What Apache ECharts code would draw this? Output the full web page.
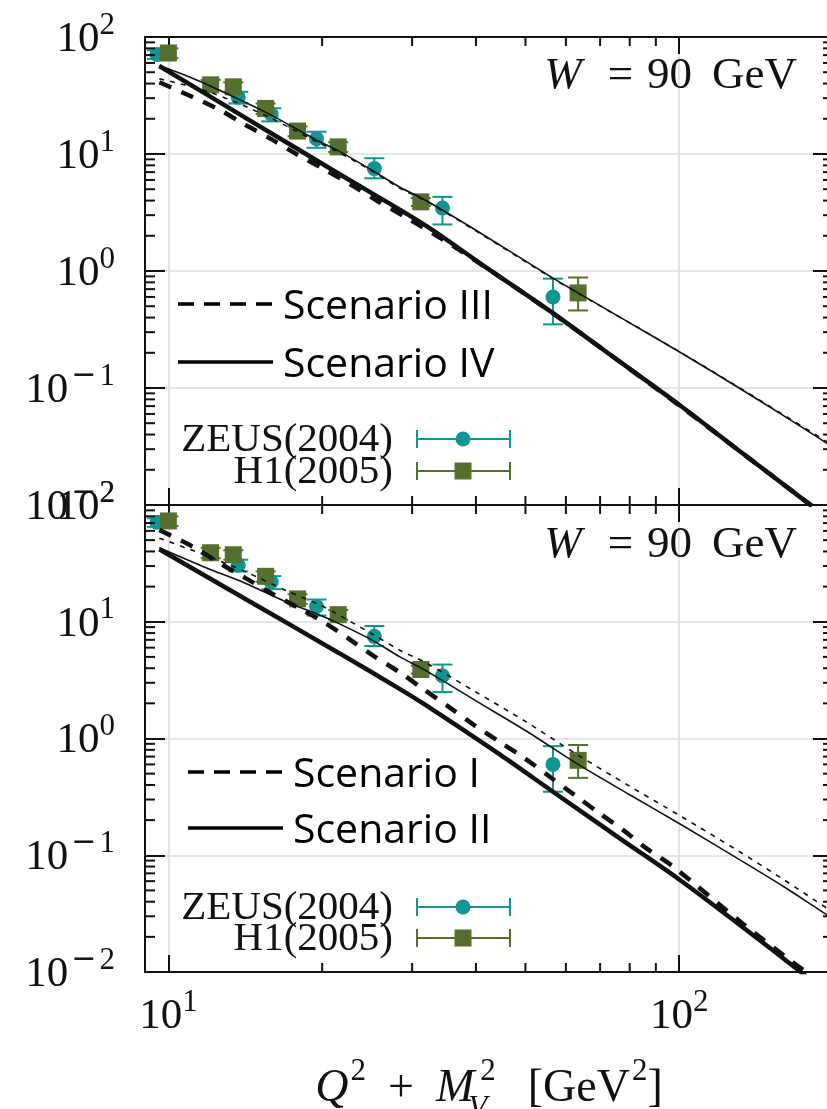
<!DOCTYPE html>
<html>
<head>
<meta charset="utf-8">
<title>W = 90 GeV</title>
<script src="https://cdn.jsdelivr.net/npm/echarts@6.0.0/dist/echarts.min.js"></script>
<style>
  html, body { margin: 0; padding: 0; background: #fff; overflow: hidden; }
  #chart { width: 834px; height: 1109px; }
</style>
</head>
<body>
<div id="chart"></div>
<script>
// data points
var zeusX  = [9.5, 13.7, 15.9, 19.5, 25.3, 34.4, 56.6];
var zeusY  = [71, 30.5, 22, 13.5, 7.5, 3.45, 0.6];
var zeusLo = [65, 27, 19, 11.3, 6.2, 2.5, 0.35];
var zeusHi = [77, 34, 24.6, 15.5, 9.2, 4.3, 0.86];

var h1X  = [10.0, 12.1, 13.4, 15.5, 17.9, 21.5, 31.2, 63.4];
var h1Y  = [73, 39, 37.5, 24.5, 15.7, 11.5, 3.9, 0.65];
var h1Lo = [66, 35, 34, 22, 14.2, 10.4, 3.6, 0.46];
var h1Hi = [80, 43, 41, 27, 17.2, 12.6, 4.2, 0.88];

// upper panel curves: Scenario III (dashed) / Scenario IV (solid)
var s4ThickX = [9.6, 14.4, 21.6, 31.8, 40.7, 56.6, 76.6, 100, 132, 176.6, 182];
var s4ThickY = [56.5, 19.5, 6.75, 2.47, 1.17, 0.437, 0.167, 0.072, 0.0284, 0.0108, 0.0098];
var s3ThickX = [9.6, 11.1, 12.6, 14.1, 15.9, 17.8, 20.2, 22.8, 25.7, 29, 35, 40.7, 56.6, 76.6, 100, 132, 176.6, 182];
var s3ThickY = [41, 31, 23.8, 17.9, 13.4, 10.0, 7.4, 5.45, 3.95, 2.92, 1.78, 1.16, 0.435, 0.167, 0.071, 0.0284, 0.0108, 0.0098];
var thinTopX = [9.6, 11, 12.1, 13.6, 15.9, 19.6, 21.4, 25, 28.4, 31.8, 40, 56.6, 63.4, 80, 100, 130, 160, 194, 200];
var s4ThinY  = [57, 45.5, 38, 30, 21.5, 13.0, 10.8, 7.3, 5.2, 4.04, 2.23, 0.87, 0.65, 0.36, 0.204, 0.102, 0.058, 0.034, 0.031];
var s3ThinY  = [44, 38, 33.5, 27.5, 20.2, 12.6, 10.5, 7.2, 5.1, 4.0, 2.2, 0.86, 0.645, 0.36, 0.205, 0.103, 0.059, 0.035, 0.032];

// lower panel curves: Scenario I (dashed) / Scenario II (solid)
var s2ThickX = [9.6, 14.4, 21.6, 28.4, 31.8, 44.6, 56.6, 76.6, 100, 132, 172.5, 180];
var s2ThickY = [41.8, 15.0, 5.38, 2.65, 1.95, 0.727, 0.35, 0.139, 0.062, 0.0249, 0.0101, 0.0087];
var s1ThickX = [9.6, 11.1, 12.7, 14.1, 16, 17.9, 20.2, 22.6, 25.3, 28.6, 31.5, 35.5, 39.8, 44.6, 50, 55.8, 62.5, 70, 77.7, 86.4, 97.5, 133.5, 166.6, 180];
var s1ThickY = [61, 44.6, 31.1, 23.9, 17.3, 13.3, 9.86, 7.1, 5.05, 3.6, 2.66, 1.85, 1.29, 0.93, 0.67, 0.47, 0.326, 0.227, 0.164, 0.114, 0.0794, 0.0257, 0.0122, 0.0095];
var thinBotX = [9.6, 11.85, 14.1, 17, 19.6, 21, 25, 28.4, 31.8, 40, 50, 63.4, 80, 100, 130, 160, 195, 200];
var s2ThinY  = [43, 29, 21.5, 14.8, 11.6, 10.2, 7.0, 5.0, 3.85, 2.1, 1.17, 0.6, 0.33, 0.187, 0.094, 0.054, 0.0307, 0.029];
var s1ThinY  = [52, 37, 27, 18.5, 14.2, 12.2, 7.9, 5.7, 4.5, 2.5, 1.4, 0.72, 0.39, 0.22, 0.11, 0.062, 0.035, 0.033];

// axis ranges and minor tick positions
var xRange = [9, 200];
var yRange = [0.01, 100];
var xMinor = [20, 30, 40, 50, 60, 70, 80, 90];
var yMinor = [0.02, 0.03, 0.04, 0.05, 0.06, 0.07, 0.08, 0.09,
              0.2, 0.3, 0.4, 0.5, 0.6, 0.7, 0.8, 0.9,
              2, 3, 4, 5, 6, 7, 8, 9,
              20, 30, 40, 50, 60, 70, 80, 90];

var serif = 'Liberation Serif';
var ink = '#111111';
var teal = '#109593';
var olive = '#55702e';

var chart = echarts.init(document.getElementById('chart'));

function pairs(xs, ys) {
  return xs.map(function (x, i) { return [x, ys[i]]; });
}

// 10^n labels
function powLabel(v) {
  var l = Math.log10(v);
  var e = Math.round(l);
  if (Math.abs(l - e) > 1e-6) return '';
  if (e < 0) return '{b|10}{m|\u2212}{s|' + (-e) + '}';
  return '{b|10}{s|' + e + '}';
}
var powRich = {
  b: { fontFamily: serif, fontSize: 43, lineHeight: 44, verticalAlign: 'top', padding: [8, 0, 0, 0], color: ink },
  s: { fontFamily: serif, fontSize: 31, lineHeight: 30, verticalAlign: 'top', color: ink },
  m: { fontFamily: 'DejaVu Sans', fontSize: 30, lineHeight: 30, verticalAlign: 'top', padding: [0, 3, 0, 3], color: ink }
};

function xAxisDef(grid, pos, labels) {
  var ax = {
    type: 'log', logBase: 10, gridIndex: grid, position: pos,
    min: xRange[0], max: xRange[1],
    axisLine: { show: true, onZero: false, lineStyle: { color: ink, width: 2 } },
    axisTick: { show: true, inside: true, length: 17, lineStyle: { color: ink, width: 2 } },
    splitLine: { show: pos === 'bottom', lineStyle: { color: '#dedede', width: 1.6 } },
    axisLabel: { show: labels, margin: 15, formatter: powLabel, rich: powRich, padding: [0, 0, 10, 0] }
  };
  if (labels) {
    ax.name = '{i|Q}{p|2}{r|+}{i|M}{v|V}{p|2}{k|[GeV}{p|2}{k2|]}';
    ax.nameLocation = 'middle';
    ax.nameGap = 84;
    ax.nameTextStyle = {
      rich: {
        i: { fontFamily: serif, fontStyle: 'italic', fontSize: 46, lineHeight: 46, verticalAlign: 'top', padding: [10, 0, 0, 0], color: ink },
        p: { fontFamily: serif, fontSize: 31, lineHeight: 30, verticalAlign: 'top', padding: [0, 0, 0, 2], color: ink },
        r: { fontFamily: serif, fontSize: 46, lineHeight: 46, verticalAlign: 'top', padding: [10, 22, 0, 22], color: ink },
        v: { fontFamily: serif, fontStyle: 'italic', fontSize: 31, lineHeight: 30, verticalAlign: 'top', padding: [37, 0, 0, 3], width: 1, color: ink },
        k: { fontFamily: serif, fontSize: 46, lineHeight: 46, verticalAlign: 'top', padding: [10, 0, 0, 32], color: ink },
        k2: { fontFamily: serif, fontSize: 46, lineHeight: 46, verticalAlign: 'top', padding: [10, 0, 0, 0], color: ink }
      }
    };
  }
  return ax;
}

function yAxisDef(grid, pos) {
  return {
    type: 'log', logBase: 10, gridIndex: grid, position: pos,
    min: yRange[0], max: yRange[1],
    axisLine: { show: true, onZero: false, lineStyle: { color: ink, width: 2 } },
    axisTick: { show: true, inside: true, length: 20, lineStyle: { color: ink, width: 2 } },
    splitLine: { show: pos === 'left', lineStyle: { color: '#dedede', width: 1.6 } },
    axisLabel: { show: pos === 'left', margin: 30, formatter: powLabel, rich: powRich, padding: [0, 0, 10, 0] }
  };
}

// short minor ticks along the frame, placed through the axes' own scales
function minorTickSeries(axis, values, isX) {
  return {
    type: 'custom', xAxisIndex: axis, yAxisIndex: axis, z: 6, clip: false, silent: true,
    encode: { x: 0, y: 1 },
    data: values.map(function (v) { return isX ? [v, yRange[0]] : [xRange[0], v]; }),
    renderItem: function (params, api) {
      var st = { stroke: ink, lineWidth: 2 };
      var a, b;
      if (isX) {
        a = api.coord([api.value(0), yRange[0]]);
        b = api.coord([api.value(0), yRange[1]]);
        return { type: 'group', children: [
          { type: 'line', shape: { x1: a[0], y1: a[1], x2: a[0], y2: a[1] - 9 }, style: st },
          { type: 'line', shape: { x1: b[0], y1: b[1], x2: b[0], y2: b[1] + 9 }, style: st }
        ] };
      }
      a = api.coord([xRange[0], api.value(1)]);
      b = api.coord([xRange[1], api.value(1)]);
      return { type: 'group', children: [
        { type: 'line', shape: { x1: a[0], y1: a[1], x2: a[0] + 10, y2: a[1] }, style: st },
        { type: 'line', shape: { x1: b[0], y1: b[1], x2: b[0] - 10, y2: b[1] }, style: st }
      ] };
    }
  };
}

function curve(name, xs, ys, axis, width, dash) {
  return {
    name: name, type: 'line', xAxisIndex: axis, yAxisIndex: axis,
    data: pairs(xs, ys), showSymbol: false, smooth: 0.3, z: 5, silent: true,
    lineStyle: { color: ink, width: width, type: dash || 'solid', cap: 'butt' }
  };
}

function points(xs, ys, axis, symbol, size, color) {
  return {
    type: 'scatter', xAxisIndex: axis, yAxisIndex: axis, data: pairs(xs, ys),
    symbol: symbol, symbolSize: size, itemStyle: { color: color, opacity: 1 }, z: 3, silent: true
  };
}

function errorBars(xs, lo, hi, axis, color) {
  return {
    type: 'custom', xAxisIndex: axis, yAxisIndex: axis, z: 3, silent: true,
    encode: { x: 0, y: [1, 2] },
    data: xs.map(function (x, i) { return [x, lo[i], hi[i]]; }),
    renderItem: function (params, api) {
      var top = api.coord([api.value(0), api.value(2)]);
      var bot = api.coord([api.value(0), api.value(1)]);
      var hw = 10;
      var st = { stroke: color, lineWidth: 2 };
      return {
        type: 'group',
        children: [
          { type: 'line', shape: { x1: top[0], y1: top[1], x2: bot[0], y2: bot[1] }, style: st },
          { type: 'line', shape: { x1: top[0] - hw, y1: top[1], x2: top[0] + hw, y2: top[1] }, style: st },
          { type: 'line', shape: { x1: bot[0] - hw, y1: bot[1], x2: bot[0] + hw, y2: bot[1] }, style: st }
        ]
      };
    }
  };
}

// text and legend keys drawn on top of each panel
function panelDecor(dy, scenDash, scenSolid, lineX, textX, dashY, solidY, zeusY0, h1Y0) {
  var out = [];
  out.push({
    type: 'text', x: 797, y: 76 + dy, z: 10,
    style: {
      text: '{i|W}{e|=}{r|90}{g|GeV}', align: 'right', verticalAlign: 'middle',
      rich: {
        i: { fontFamily: serif, fontStyle: 'italic', fontSize: 45, fill: ink },
        e: { fontFamily: serif, fontSize: 45, padding: [0, 14, 0, 26], fill: ink },
        r: { fontFamily: serif, fontSize: 45, fill: ink },
        g: { fontFamily: serif, fontSize: 45, padding: [0, 0, 0, 20], fill: ink }
      }
    }
  });
  out.push({ type: 'line', z: 10, shape: { x1: lineX, y1: dashY, x2: lineX + 95, y2: dashY },
    style: { stroke: '#000', lineWidth: 3.5, lineDash: [16, 10] } });
  out.push({ type: 'line', z: 10, shape: { x1: lineX, y1: solidY, x2: lineX + 95, y2: solidY },
    style: { stroke: '#000', lineWidth: 3.5 } });
  out.push({ type: 'text', z: 10, x: textX, y: dashY + 3,
    style: { text: scenDash, fontFamily: 'Open Sans', fontSize: 41, fill: '#000', verticalAlign: 'middle' } });
  out.push({ type: 'text', z: 10, x: textX, y: solidY + 3,
    style: { text: scenSolid, fontFamily: 'Open Sans', fontSize: 41, fill: '#000', verticalAlign: 'middle' } });

  out.push({ type: 'text', z: 10, x: 393, y: zeusY0 + 1,
    style: { text: 'ZEUS(2004)', fontFamily: serif, fontSize: 41, fill: ink, align: 'right', verticalAlign: 'middle' } });
  out.push({ type: 'text', z: 10, x: 393, y: h1Y0 + 1,
    style: { text: 'H1(2005)', fontFamily: serif, fontSize: 41, fill: ink, align: 'right', verticalAlign: 'middle' } });

  var keys = [[zeusY0, teal, 'circle'], [h1Y0, olive, 'rect']];
  keys.forEach(function (k) {
    var y = k[0], c = k[1];
    var st = { stroke: c, lineWidth: 2 };
    out.push({ type: 'line', z: 10, shape: { x1: 417, y1: y, x2: 510, y2: y }, style: st });
    out.push({ type: 'line', z: 10, shape: { x1: 417, y1: y - 9, x2: 417, y2: y + 9 }, style: st });
    out.push({ type: 'line', z: 10, shape: { x1: 510, y1: y - 9, x2: 510, y2: y + 9 }, style: st });
    if (k[2] === 'circle') {
      out.push({ type: 'circle', z: 11, shape: { cx: 463, cy: y, r: 7.5 }, style: { fill: c } });
    } else {
      out.push({ type: 'rect', z: 11, shape: { x: 454.5, y: y - 8.5, width: 17, height: 17 }, style: { fill: c } });
    }
  });
  return out;
}

// keep the plot frames fixed even though the axis title reaches the page edge
var noShrink = { outerBoundsMode: 'none', outerBounds: { left: -2000, right: -2000, top: -2000, bottom: -2000 } };

var option = {
  animation: false,
  backgroundColor: '#ffffff',
  grid: [
    Object.assign({ left: 145, right: 1, top: 37, height: 468 }, noShrink),
    Object.assign({ left: 145, right: 1, top: 505, height: 467 }, noShrink)
  ],
  xAxis: [
    xAxisDef(0, 'bottom', false),   // 0 upper panel
    xAxisDef(1, 'bottom', true),    // 1 lower panel
    xAxisDef(0, 'top', false),
    xAxisDef(1, 'top', false)
  ],
  yAxis: [
    yAxisDef(0, 'left'),            // 0 upper panel
    yAxisDef(1, 'left'),            // 1 lower panel
    yAxisDef(0, 'right'),
    yAxisDef(1, 'right')
  ],
  series: [
    minorTickSeries(0, xMinor, true),
    minorTickSeries(0, yMinor, false),
    minorTickSeries(1, xMinor, true),
    minorTickSeries(1, yMinor, false),
    // upper panel
    errorBars(zeusX, zeusLo, zeusHi, 0, teal),
    errorBars(h1X, h1Lo, h1Hi, 0, olive),
    points(zeusX, zeusY, 0, 'circle', 15, teal),
    points(h1X, h1Y, 0, 'rect', 17, olive),
    curve('Scenario III', s3ThickX, s3ThickY, 0, 4.5, [13, 11]),
    curve('Scenario IV', s4ThickX, s4ThickY, 0, 4.5),
    curve('Scenario III thin', thinTopX, s3ThinY, 0, 1.6, [5, 6]),
    curve('Scenario IV thin', thinTopX, s4ThinY, 0, 1.6),
    // lower panel
    errorBars(zeusX, zeusLo, zeusHi, 1, teal),
    errorBars(h1X, h1Lo, h1Hi, 1, olive),
    points(zeusX, zeusY, 1, 'circle', 15, teal),
    points(h1X, h1Y, 1, 'rect', 17, olive),
    curve('Scenario I', s1ThickX, s1ThickY, 1, 4.5, [13, 11]),
    curve('Scenario II', s2ThickX, s2ThickY, 1, 4.5),
    curve('Scenario I thin', thinBotX, s1ThinY, 1, 1.6, [5, 6]),
    curve('Scenario II thin', thinBotX, s2ThinY, 1, 1.6)
  ],
  graphic: [].concat(
    panelDecor(0, 'Scenario III', 'Scenario IV', 178, 283, 304, 362, 439, 471),
    panelDecor(469, 'Scenario I', 'Scenario II', 188, 293, 772, 828, 907, 938)
  )
};

chart.setOption(option);
</script>
</body>
</html>
